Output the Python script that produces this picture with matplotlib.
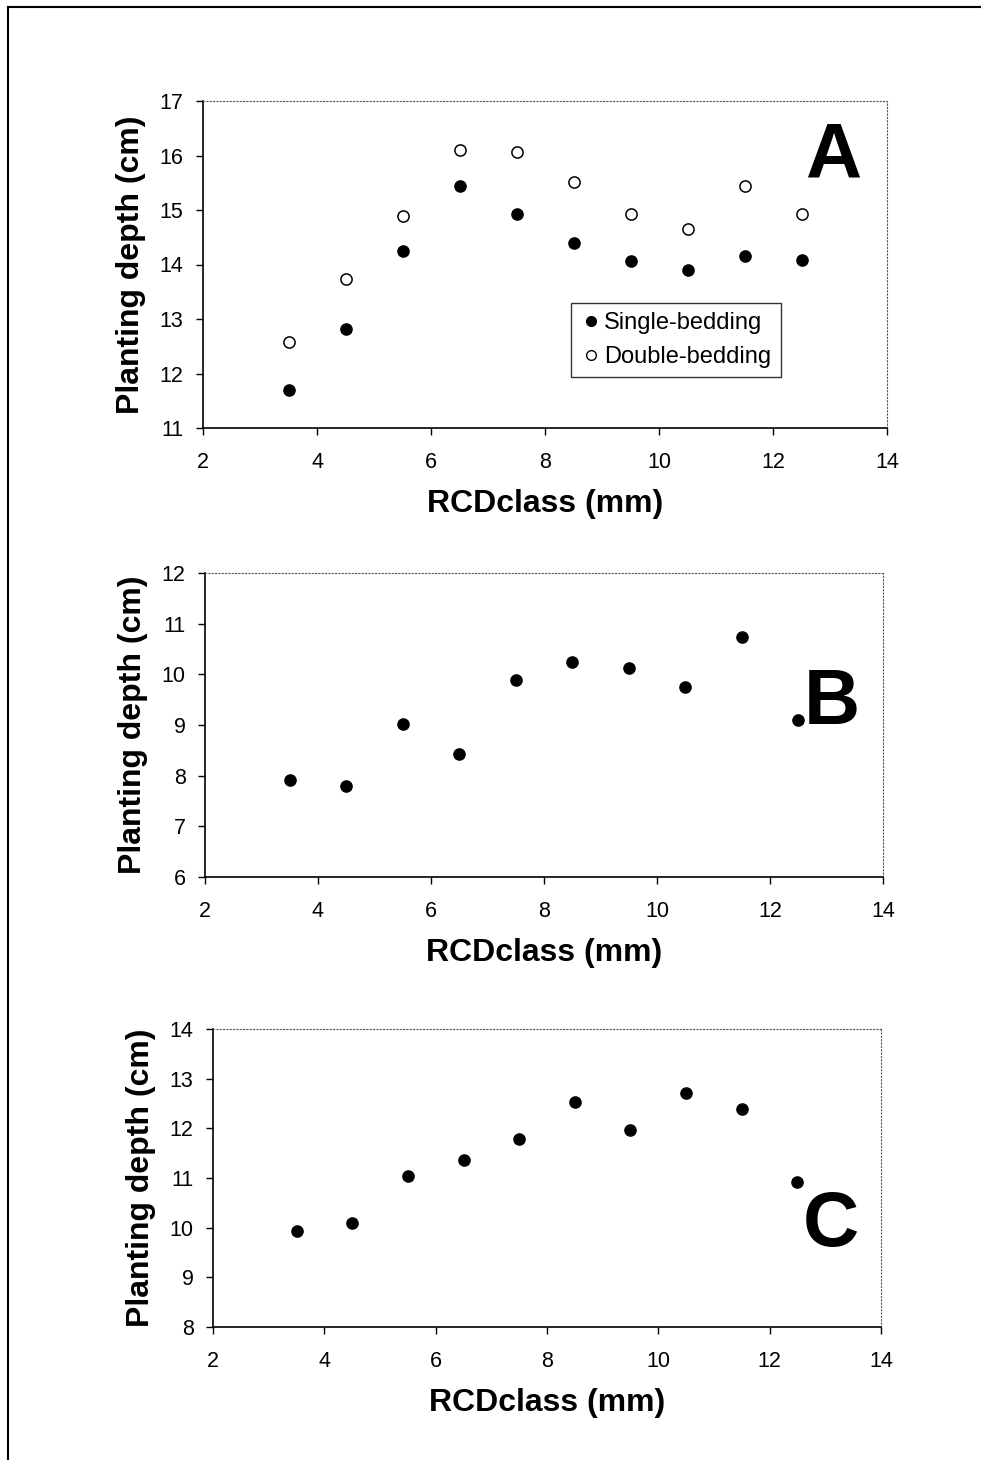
import matplotlib.pyplot as plt
from matplotlib.lines import Line2D

rcd = [3.5, 4.5, 5.5, 6.5, 7.5, 8.5, 9.5, 10.5, 11.5, 12.5]

a_single = [11.70, 12.82, 14.25, 15.44, 14.93, 14.39, 14.07, 13.90, 14.16, 14.09]
a_double = [12.58, 13.73, 14.89, 16.10, 16.06, 15.51, 14.92, 14.65, 15.44, 14.93]
b_single = [7.92, 7.80, 9.02, 8.42, 9.89, 10.24, 10.13, 9.75, 10.74, 9.10]
c_single = [9.93, 10.10, 11.04, 11.37, 11.79, 12.53, 11.97, 12.72, 12.38, 10.91]

xticks = [2, 4, 6, 8, 10, 12, 14]

plt.rcParams['font.family'] = ['Liberation Sans', 'DejaVu Sans']

fig = plt.figure(figsize=(9.81, 14.6), dpi=100)
W, H = 981, 1460


def add_axes(left, top, right, bottom):
    return fig.add_axes([left / W, 1 - bottom / H, (right - left) / W, (bottom - top) / H])


panels = [
    # box (px), ylim, letter, letter pos (axes coords)
    ((203, 101, 887, 428), (11, 17), 'A', (0.921, 0.83)),
    ((205, 573, 883, 877), (6, 12), 'B', (0.925, 0.57)),
    ((213, 1029, 881, 1327), (8, 14), 'C', (0.925, 0.34)),
]
series = [(a_single, a_double), (b_single, None), (c_single, None)]

for (box, ylim, letter, lpos), (single, double) in zip(panels, series):
    ax = add_axes(*box)
    ax.scatter(rcd, single, s=65, color='black', zorder=3)
    if double is not None:
        ax.scatter(rcd, double, s=65, facecolor='white', edgecolor='black',
                   linewidth=1.1, zorder=3)
    ax.set_xlim(2, 14)
    ax.set_ylim(*ylim)
    ax.set_xticks(xticks)
    ax.set_yticks(range(ylim[0], ylim[1] + 1))
    ax.tick_params(direction='out', length=5, width=1, labelsize=15.5)
    ax.tick_params(axis='x', pad=12)
    ax.tick_params(axis='y', pad=9)
    for side in ('top', 'right'):
        ax.spines[side].set_linestyle((0, (1, 2)))
        ax.spines[side].set_color('#555555')
        ax.spines[side].set_linewidth(0.8)
    for side in ('left', 'bottom'):
        ax.spines[side].set_linewidth(1.2)
    ax.set_xlabel('RCDclass (mm)', fontsize=23, fontweight='bold', labelpad=12)
    ax.set_ylabel('Planting depth (cm)', fontsize=23, fontweight='bold', labelpad=10)
    ax.text(lpos[0], lpos[1], letter, transform=ax.transAxes, fontsize=56,
            fontweight='bold', ha='center', va='center')
    if double is not None:
        handles = [
            Line2D([], [], marker='o', ls='none', color='black', markersize=7),
            Line2D([], [], marker='o', ls='none', markerfacecolor='white',
                   markeredgecolor='black', markersize=7),
        ]
        leg = ax.legend(handles, ['Single-bedding', 'Double-bedding'],
                        loc='upper left', bbox_to_anchor=(0.538, 0.383),
                        fontsize=17, frameon=True, fancybox=False,
                        handletextpad=0.1, borderpad=0.4, labelspacing=0.5,
                        handlelength=0.9, borderaxespad=0)
        leg.get_frame().set_edgecolor('black')
        leg.get_frame().set_linewidth(1.0)

# outer frame (top and left edges)
fig.add_artist(Line2D([8 / W, 1], [1 - 7 / H, 1 - 7 / H], color='black', lw=1.5))
fig.add_artist(Line2D([8 / W, 8 / W], [0, 1 - 7 / H], color='black', lw=1.5))

fig.savefig('out.png', dpi=100)
